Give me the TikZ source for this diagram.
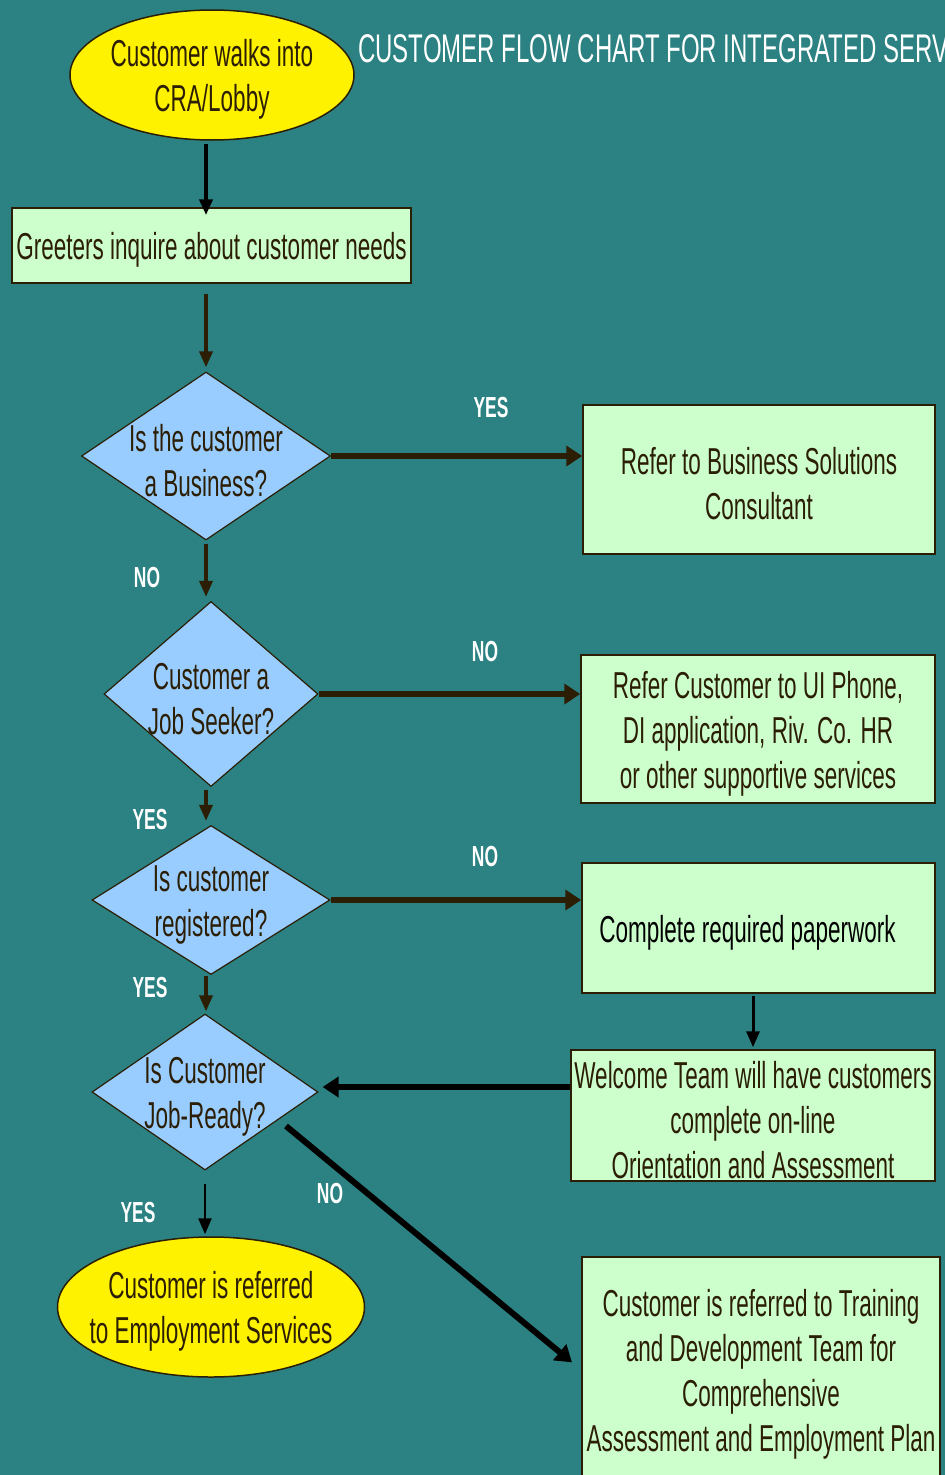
\documentclass[tikz,border=0pt]{standalone}
\usepackage{fontspec}
\setmainfont{Liberation Sans}[FakeStretch=0.6]
\usetikzlibrary{shapes.geometric,arrows.meta}
\definecolor{seabg}{RGB}{44,130,130}
\definecolor{boxgreen}{RGB}{204,255,204}
\definecolor{diablue}{RGB}{153,204,255}
\definecolor{inkbrown}{RGB}{43,30,5}
\newcommand\upgap{\rule{0pt}{36pt}}
\tikzset{
    txt/.style={text=inkbrown, font=\fontsize{37.5}{45}\selectfont, align=center},
    startend/.style={txt, ellipse, draw=inkbrown, line width=1.5, fill=yellow, inner sep=-40pt},
    stepbox/.style={txt, rectangle, draw=inkbrown, line width=1.5, fill=boxgreen, inner sep=0pt},
    question/.style={txt, diamond, draw=inkbrown, line width=1.2, fill=diablue, inner sep=-40pt},
    answer/.style={text=white, font=\fontsize{29}{34}\bfseries\selectfont},
    thinflow/.style={draw=inkbrown, line width=3.5, -{Triangle[length=16,width=13]}},
    thickflow/.style={draw=inkbrown, line width=6.5, -{Triangle[length=16,width=20]}}
}
\begin{document}
\begin{tikzpicture}[x=1pt, y=-1pt]
    \fill[seabg] (0,0) rectangle (945,1475);
    \useasboundingbox (0,0) rectangle (945,1475);

    \node[anchor=base west, text=white, font=\fontsize{40}{46}\selectfont, inner sep=0pt]
        (title) at (358,62) {CUSTOMER FLOW CHART FOR INTEGRATED SERV};

    \node[startend, minimum width=284, minimum height=130] (walk) at (212,75)
        {\upgap Customer walks into\\CRA/Lobby};
    \node[stepbox, minimum width=399, minimum height=75] (greet) at (211.5,245.5)
        {\upgap Greeters inquire about customer needs};

    \node[question, minimum width=249, minimum height=168] (isbiz) at (206,456)
        {\upgap Is the customer\\a Business?};
    \node[question, minimum width=214, minimum height=185] (seeker) at (211,694)
        {\upgap Customer a\\Job Seeker?};
    \node[question, minimum width=238, minimum height=149] (registered) at (211,900)
        {\upgap Is customer\\registered?};
    \node[question, minimum width=226, minimum height=156] (jobready) at (205,1092)
        {\upgap Is Customer\\Job-Ready?};

    \node[startend, minimum width=307, minimum height=140] (employ) at (211,1307)
        {\upgap Customer is referred\\to Employment Services};

    \node[stepbox, minimum width=352, minimum height=149] (bizcons) at (759,479.5)
        {\upgap Refer to Business Solutions\\Consultant};
    \node[stepbox, minimum width=354, minimum height=148] (supportive) at (758,729)
        {\upgap Refer Customer to UI Phone,\\DI application, Riv. Co. HR\\or other supportive services};
    \node[stepbox, text=black, minimum width=353, minimum height=130] (paperwork) at (758.5,928)
        {\upgap Complete required paperwork\hspace*{22pt}};
    \node[stepbox, minimum width=364, minimum height=131] (welcome) at (753,1115.5)
        {\upgap Welcome Team will have customers\\complete on-line\\Orientation and Assessment};
    \node[stepbox, minimum width=358, minimum height=226] (training) at (761,1370)
        {\upgap Customer is referred to Training\\and Development Team for\\Comprehensive\\Assessment and Employment Plan};

    \node[answer] (yes1) at (491,408) {YES};
    \node[answer] (no1) at (147,578) {NO};
    \node[answer] (no2) at (485,652) {NO};
    \node[answer] (yes2) at (150,820) {YES};
    \node[answer] (no3) at (485,857) {NO};
    \node[answer] (yes3) at (150,988) {YES};
    \node[answer] (yes4) at (138,1213) {YES};
    \node[answer] (no4) at (330,1194) {NO};

    \draw[thinflow, draw=black, line width=4, shorten <=3, shorten >=-8]
        ([xshift=-6]walk.south) -- ([xshift=-6]walk.south |- greet.north);
    \draw[thinflow, shorten <=10, shorten >=4]
        ([xshift=-5.5]greet.south) -- ([xshift=-5.5]greet.south |- isbiz.north);
    \draw[thinflow, shorten <=3, shorten >=4]
        (isbiz.south) -- (isbiz.south |- seeker.north);
    \draw[thinflow, shorten <=3, shorten >=4]
        ([xshift=-5]seeker.south) -- ([xshift=-5]seeker.south |- registered.north);
    \draw[thinflow, shorten <=1, shorten >=2]
        ([xshift=-5]registered.south) -- ([xshift=-5]registered.south |- jobready.north);
    \draw[thinflow, draw=black, line width=2.5, shorten <=13, shorten >=2]
        (jobready.south) -- (jobready.south |- employ.north);
    \draw[thinflow, draw=black, line width=3, shorten <=2, shorten >=2]
        (paperwork.south -| welcome.north) -- (welcome.north);

    \draw[thickflow] (isbiz.east) -- (isbiz.east -| bizcons.west);
    \draw[thickflow] (seeker.east) -- (seeker.east -| supportive.west);
    \draw[thickflow] (registered.east) -- (registered.east -| paperwork.west);
    \draw[thickflow, draw=black, shorten >=4]
        ([yshift=5]welcome.west |- jobready.east) -- ([yshift=5]jobready.east);

    \coordinate (nostart) at (286,1126);
    \draw[thickflow, draw=black, line width=6, shorten >=12] (nostart) -- (training.west);

\end{tikzpicture}
\end{document}
